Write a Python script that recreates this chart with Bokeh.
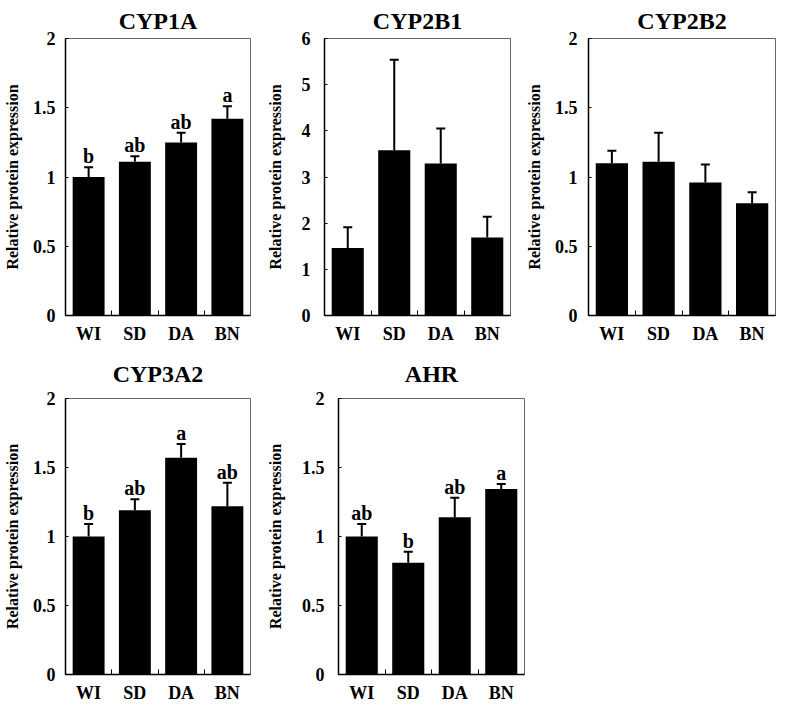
from bokeh.plotting import figure
from bokeh.layouts import column, row
from bokeh.models import (ColumnDataSource, FixedTicker, NumeralTickFormatter,
                          Whisker, TeeHead, Range1d)
from bokeh.core.properties import value
from bokeh.embed import file_html
from bokeh.resources import INLINE

groups = ["WI", "SD", "DA", "BN"]

cyp1a_mean = [1.00, 1.11, 1.25, 1.42]
cyp1a_err = [0.07, 0.04, 0.07, 0.09]
cyp1a_letters = ["b", "ab", "ab", "a"]

cyp2b1_mean = [1.46, 3.58, 3.29, 1.69]
cyp2b1_err = [0.45, 1.96, 0.76, 0.45]

cyp2b2_mean = [1.10, 1.11, 0.96, 0.81]
cyp2b2_err = [0.09, 0.21, 0.13, 0.08]

cyp3a2_mean = [1.00, 1.19, 1.57, 1.22]
cyp3a2_err = [0.09, 0.08, 0.10, 0.17]
cyp3a2_letters = ["b", "ab", "a", "ab"]

ahr_mean = [1.00, 0.81, 1.14, 1.345]
ahr_err = [0.09, 0.08, 0.14, 0.035]
ahr_letters = ["ab", "b", "ab", "a"]

ticks_2 = [0, 0.5, 1, 1.5, 2]
ticks_6 = [0, 1, 2, 3, 4, 5, 6]

FONT = "Liberation Serif"


def panel(title, means, errs, letters, ymax, yticks, left, top, right, bottom,
          fw, fh, title_standoff, tick_standoff, label_standoff):
    n = len(groups)
    xs = [i + 0.5 for i in range(n)]
    src = ColumnDataSource(dict(
        x=xs, top=means, upper=[m + e for m, e in zip(means, errs)],
        letters=letters if letters else [""] * n))
    p = figure(frame_width=fw, frame_height=fh, output_backend="svg",
               toolbar_location=None, x_range=Range1d(0, n),
               y_range=Range1d(0, ymax),
               min_border_left=left, min_border_top=top,
               min_border_right=right, min_border_bottom=bottom)
    p.title.text = title
    p.title.align = "center"
    p.title.text_font = FONT
    p.title.text_font_style = "bold"
    p.title.text_font_size = "24px"
    p.title.text_color = "black"
    p.title.text_line_height = 0.4
    p.title.standoff = title_standoff
    p.xgrid.visible = False
    p.ygrid.visible = False
    p.outline_line_color = "#666666"
    p.outline_line_width = 1
    p.background_fill_color = "white"
    p.border_fill_color = "white"

    p.vbar(x="x", top="top", width=0.69, source=src, fill_color="black",
           line_color=None)
    w = Whisker(source=src, base="x", upper="upper", lower="top",
                dimension="height", line_width=2, line_color="black",
                upper_head=TeeHead(size=9, line_width=2, line_color="black"),
                lower_head=None, level="glyph")
    p.add_layout(w)
    if letters:
        p.text(x="x", y="upper", text="letters", source=src,
               text_align="center", text_baseline="alphabetic", y_offset=-11,
               text_font=value(FONT), text_font_style="bold",
               text_font_size="20px", text_color="black")

    xa = p.xaxis[0]
    xa.ticker = FixedTicker(ticks=xs, minor_ticks=list(range(1, n)))
    xa.major_label_overrides = {x: g for x, g in zip(xs, groups)}
    xa.major_tick_line_color = None
    xa.major_tick_in = 0
    xa.major_tick_out = 0
    xa.minor_tick_in = 5
    xa.minor_tick_out = 0
    xa.minor_tick_line_color = "black"
    xa.axis_line_color = "black"
    xa.axis_line_width = 1.5
    xa.major_label_text_font = FONT
    xa.major_label_text_font_style = "bold"
    xa.major_label_text_font_size = "18px"
    xa.major_label_text_color = "black"
    xa.major_label_standoff = 8

    ya = p.yaxis[0]
    ya.ticker = FixedTicker(ticks=yticks)
    ya.formatter = NumeralTickFormatter(format="0.[0]")
    ya.major_tick_in = 3
    ya.major_tick_out = 0
    ya.minor_tick_in = 0
    ya.minor_tick_out = 0
    ya.minor_tick_line_color = None
    ya.axis_line_color = "black"
    ya.axis_line_width = 1.5
    ya.major_label_text_font = FONT
    ya.major_label_text_font_style = "bold"
    ya.major_label_text_font_size = "18px"
    ya.major_label_text_color = "black"
    ya.major_label_standoff = tick_standoff
    ya.axis_label = "Relative protein expression"
    ya.axis_label_text_font = FONT
    ya.axis_label_text_font_style = "bold"
    ya.axis_label_text_font_size = "16px"
    ya.axis_label_text_color = "black"
    ya.axis_label_standoff = label_standoff
    return p


p1 = panel("CYP1A", cyp1a_mean, cyp1a_err, cyp1a_letters, 2, ticks_2,
           62, 32, 13, 29, 185, 277, 10, 10, 9)
p2 = panel("CYP2B1", cyp2b1_mean, cyp2b1_err, None, 6, ticks_6,
           60, 32, 12, 29, 186, 277, 10, 14, 15)
p3 = panel("CYP2B2", cyp2b2_mean, cyp2b2_err, None, 2, ticks_2,
           63, 32, 2, 29, 187, 277, 10, 11, 9)
p4 = panel("CYP3A2", cyp3a2_mean, cyp3a2_err, cyp3a2_letters, 2, ticks_2,
           62, 52, 13, 28, 185, 276, 23, 10, 9)
p5 = panel("AHR", ahr_mean, ahr_err, ahr_letters, 2, ticks_2,
           60, 52, 12, 28, 186, 276, 23, 14, 15)

layout = column(row(p1, p2, p3), row(p4, p5))

open("out.html", "w").write(file_html(layout, INLINE))
